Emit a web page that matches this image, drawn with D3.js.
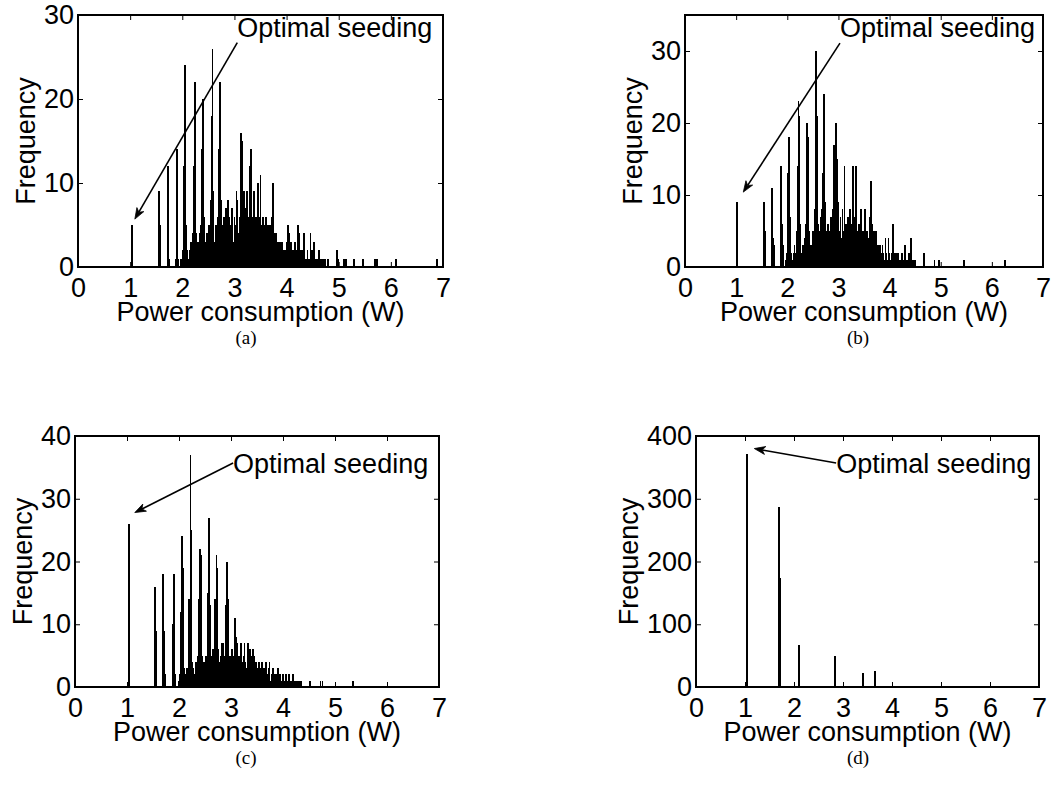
<!DOCTYPE html>
<html>
<head>
<meta charset="utf-8">
<script src="https://cdn.jsdelivr.net/npm/d3@7"></script>
<style>
  html, body { margin: 0; padding: 0; background: #fff; }
  svg { display: block; }
</style>
</head>
<body>
<svg id="fig" width="1062" height="797"></svg>
<script>
// ---- Histogram data: power consumption (W) vs frequency ----
const binWidth = 0.02;
const xTicks = [0, 1, 2, 3, 4, 5, 6, 7];

// (a) dense bins starting at 1.50 W, step binWidth
const startA = 1.50;
const countsA = [
  0, 0, 0, 9, 5, 0, 0, 0, 0, 0,
  0, 12, 1, 0, 0, 0, 0, 0, 0, 1,
  14, 1, 0, 0, 1, 1, 2, 12, 24, 5,
  2, 1, 2, 3, 2, 4, 12, 22, 4, 2,
  3, 2, 4, 5, 14, 20, 6, 3, 2, 4,
  3, 5, 8, 18, 26, 9, 3, 5, 4, 6,
  14, 22, 8, 4, 5, 6, 4, 7, 5, 8,
  6, 4, 5, 7, 3, 6, 5, 9, 8, 4,
  6, 16, 15, 5, 9, 7, 4, 9, 5, 6,
  12, 14, 6, 4, 9, 6, 5, 6, 10, 6,
  11, 5, 6, 4, 5, 6, 3, 5, 4, 5,
  5, 6, 10, 4, 3, 4, 2, 3, 2, 3,
  2, 3, 2, 2, 2, 3, 5, 4, 2, 3,
  2, 1, 2, 3, 2, 2, 5, 4, 1, 2,
  1, 2, 4, 1, 1, 2, 1, 1, 4, 2,
  2, 3, 1, 1, 1, 1, 2, 1, 1, 0,
  1, 0, 1, 0, 0, 1
];
const lonePowerA = [1.04, 4.96, 4.98, 5.10, 5.14, 5.30, 5.46, 5.70, 5.74, 6.10, 6.88];
const loneFreqA  = [5, 2, 1, 1, 1, 1, 1, 1, 1, 1, 1];

// (b)
const startB = 1.50;
const countsB = [
  0, 0, 9, 5, 0, 0, 0, 0, 0, 0,
  11, 4, 3, 0, 0, 0, 0, 0, 0, 14,
  6, 3, 0, 0, 1, 2, 13, 18, 7, 2,
  1, 2, 3, 2, 5, 14, 23, 21, 6, 2,
  3, 2, 4, 6, 20, 18, 5, 3, 2, 3,
  5, 4, 8, 30, 21, 6, 4, 5, 7, 8,
  13, 24, 9, 4, 5, 6, 4, 5, 7, 6,
  8, 17, 6, 20, 15, 9, 5, 7, 4, 8,
  5, 14, 6, 4, 7, 5, 8, 4, 6, 14,
  7, 4, 14, 5, 3, 6, 4, 8, 3, 5,
  4, 8, 3, 5, 4, 3, 7, 12, 6, 4,
  5, 3, 5, 2, 3, 2, 3, 2, 3, 2,
  1, 4, 2, 1, 4, 2, 1, 2, 6, 1,
  2, 1, 2, 2, 1, 1, 1, 2, 1, 1,
  3, 1, 1, 1, 2, 1, 4, 1, 1, 1,
  1, 0, 0, 0, 0, 0, 0, 0, 0, 2
];
const lonePowerB = [1.02, 4.88, 4.96, 5.46, 6.26];
const loneFreqB  = [9, 1, 1, 1, 1];

// (c)
const startC = 1.50;
const countsC = [
  0, 0, 16, 9, 0, 0, 0, 0, 0, 0,
  18, 9, 2, 0, 0, 0, 0, 0, 0, 10,
  18, 2, 0, 0, 0, 1, 2, 12, 24, 19,
  3, 1, 2, 3, 2, 14, 37, 25, 4, 3,
  2, 4, 3, 5, 14, 22, 21, 5, 3, 4,
  3, 5, 4, 15, 27, 13, 4, 5, 6, 4,
  14, 21, 19, 6, 4, 5, 7, 7, 5, 4,
  13, 20, 14, 4, 5, 4, 6, 4, 5, 11,
  8, 7, 4, 5, 3, 7, 4, 5, 7, 4,
  3, 7, 4, 6, 5, 3, 6, 5, 3, 4,
  2, 3, 4, 2, 3, 4, 2, 3, 1, 4,
  2, 3, 4, 1, 2, 3, 1, 2, 1, 2,
  3, 1, 2, 1, 1, 2, 1, 1, 2, 1,
  1, 2, 1, 1, 1, 2, 1, 1, 1, 1,
  1, 1, 1
];
const lonePowerC = [1.04, 4.52, 4.72, 4.76, 5.34];
const loneFreqC  = [26, 1, 1, 1, 1];

// (d) only a handful of occupied bins
const powerD = [1.04, 1.70, 1.72, 2.10, 2.84, 3.40, 3.66];
const freqD  = [371, 287, 174, 67, 50, 23, 26];

const yTicksA = [0, 10, 20, 30];
const yTicksB = [0, 10, 20, 30];
const yTicksC = [0, 10, 20, 30, 40];
const yTicksD = [0, 100, 200, 300, 400];

const captions = ["(a)", "(b)", "(c)", "(d)"];
const noteText = "Optimal seeding";

// Build [power, freq] bins from a dense run plus isolated bins
function bins(start, counts, lonePower, loneFreq) {
  const out = counts.map((f, i) => [+(start + i * binWidth).toFixed(2), f]);
  lonePower.forEach((p, i) => out.push([p, loneFreq[i]]));
  return out.filter(d => d[1] > 0);
}

const panels = [
  { bins: bins(startA, countsA, lonePowerA, loneFreqA), ymax: 30, yTicks: yTicksA,
    box: [78, 443, 15, 267], capX: 246,
    note: { tip: [1.09, 5.7], tail: [3.055, 26.7], text: [3.055, 27.4] } },
  { bins: bins(startB, countsB, lonePowerB, loneFreqB), ymax: 35, yTicks: yTicksB,
    box: [685, 1043, 15, 267], capX: 858,
    note: { tip: [1.14, 10.4], tail: [3.03, 31.1], text: [3.03, 31.9] } },
  { bins: bins(startC, countsC, lonePowerC, loneFreqC), ymax: 40, yTicks: yTicksC,
    box: [75, 439, 436, 687], capX: 246,
    note: { tip: [1.15, 27.8], tail: [3.04, 35.7], text: [3.04, 34.1] } },
  { bins: powerD.map((p, i) => [p, freqD[i]]), ymax: 400, yTicks: yTicksD,
    box: [696, 1039, 436, 687], capX: 858,
    note: { tip: [1.19, 380], tail: [2.86, 357], text: [2.86, 341] } }
];

const svg = d3.select("#fig");
svg.append("rect").attr("width", 1062).attr("height", 797).attr("fill", "#fff");

const FONT = "'Liberation Sans', Arial, Helvetica, sans-serif";
const FS = 27;

panels.forEach((p, k) => {
  const [L, R, T, B] = p.box;
  const x = d3.scaleLinear().domain([0, 7]).range([L, R]);
  const y = d3.scaleLinear().domain([0, p.ymax]).range([B, T]);
  const g = svg.append("g");

  // bars: black face plus the black edge line widens each bin slightly
  const bw = x(binWidth) - x(0);
  const drawnW = Math.max(bw, 1) + 0.8;
  g.append("g").attr("shape-rendering", "crispEdges")
    .selectAll("rect").data(p.bins).join("rect")
    .attr("x", d => x(d[0]) - drawnW / 2)
    .attr("width", drawnW)
    .attr("y", d => y(d[1]))
    .attr("height", d => y(0) - y(d[1]))
    .attr("fill", "#000");

  const style = sel => {
    sel.select(".domain").remove();
    sel.attr("font-family", FONT).attr("font-size", FS);
    sel.selectAll("line").attr("stroke", "#000").attr("stroke-width", 1);
    sel.selectAll("text").attr("fill", "#000");
  };

  // inward ticks on all four sides
  g.append("g").attr("transform", `translate(0,${B})`)
    .call(d3.axisBottom(x).tickValues(xTicks).tickFormat(d3.format("d")).tickSizeInner(-5).tickSizeOuter(0).tickPadding(11))
    .call(style);
  g.append("g").attr("transform", `translate(0,${T})`)
    .call(d3.axisTop(x).tickValues(xTicks).tickFormat("").tickSizeInner(-5).tickSizeOuter(0))
    .call(style);
  const yAxis = g.append("g").attr("transform", `translate(${L},0)`)
    .call(d3.axisLeft(y).tickValues(p.yTicks).tickFormat(d3.format("d")).tickSizeInner(-5).tickSizeOuter(0).tickPadding(4))
    .call(style);
  g.append("g").attr("transform", `translate(${R},0)`)
    .call(d3.axisRight(y).tickValues(p.yTicks).tickFormat("").tickSizeInner(-5).tickSizeOuter(0))
    .call(style);

  // frame
  g.append("rect").attr("x", L).attr("y", T).attr("width", R - L).attr("height", B - T)
    .attr("fill", "none").attr("stroke", "#000").attr("stroke-width", 1.2)
    .attr("shape-rendering", "crispEdges");

  // axis labels
  g.append("text").attr("x", (L + R) / 2).attr("y", B + 54)
    .attr("text-anchor", "middle").attr("font-family", FONT).attr("font-size", FS)
    .text("Power consumption (W)");

  let minX = L;
  yAxis.selectAll("text").each(function () {
    minX = Math.min(minX, L + this.getBBox().x);
  });
  g.append("text")
    .attr("transform", `translate(${minX - 9},${(T + B) / 2}) rotate(-90)`)
    .attr("text-anchor", "middle").attr("font-family", FONT).attr("font-size", FS)
    .text("Frequency");

  // annotation arrow
  const [tx, ty] = [x(p.note.tip[0]), y(p.note.tip[1])];
  const [sx, sy] = [x(p.note.tail[0]), y(p.note.tail[1])];
  const ang = Math.atan2(ty - sy, tx - sx);
  const len = 11, half = 4, notch = 8;
  const ca = Math.cos(ang), sa = Math.sin(ang);
  const px = (a, b) => [tx - a * ca + b * sa, ty - a * sa - b * ca];
  g.append("line")
    .attr("x1", sx).attr("y1", sy)
    .attr("x2", px(notch, 0)[0]).attr("y2", px(notch, 0)[1])
    .attr("stroke", "#000").attr("stroke-width", 1.6);
  g.append("path")
    .attr("d", d3.line()([[tx, ty], px(len, half), px(notch, 0), px(len, -half)]) + "Z")
    .attr("fill", "#000").attr("stroke", "#000").attr("stroke-width", 0.8);

  g.append("text").attr("x", x(p.note.text[0])).attr("y", y(p.note.text[1]))
    .attr("font-family", FONT).attr("font-size", FS).text(noteText);

  // sub-figure caption
  svg.append("text").attr("x", p.capX).attr("y", B + 77)
    .attr("text-anchor", "middle")
    .attr("font-family", "'Liberation Serif', 'Times New Roman', Times, serif")
    .attr("font-size", 19).text(captions[k]);
});
</script>
</body>
</html>
